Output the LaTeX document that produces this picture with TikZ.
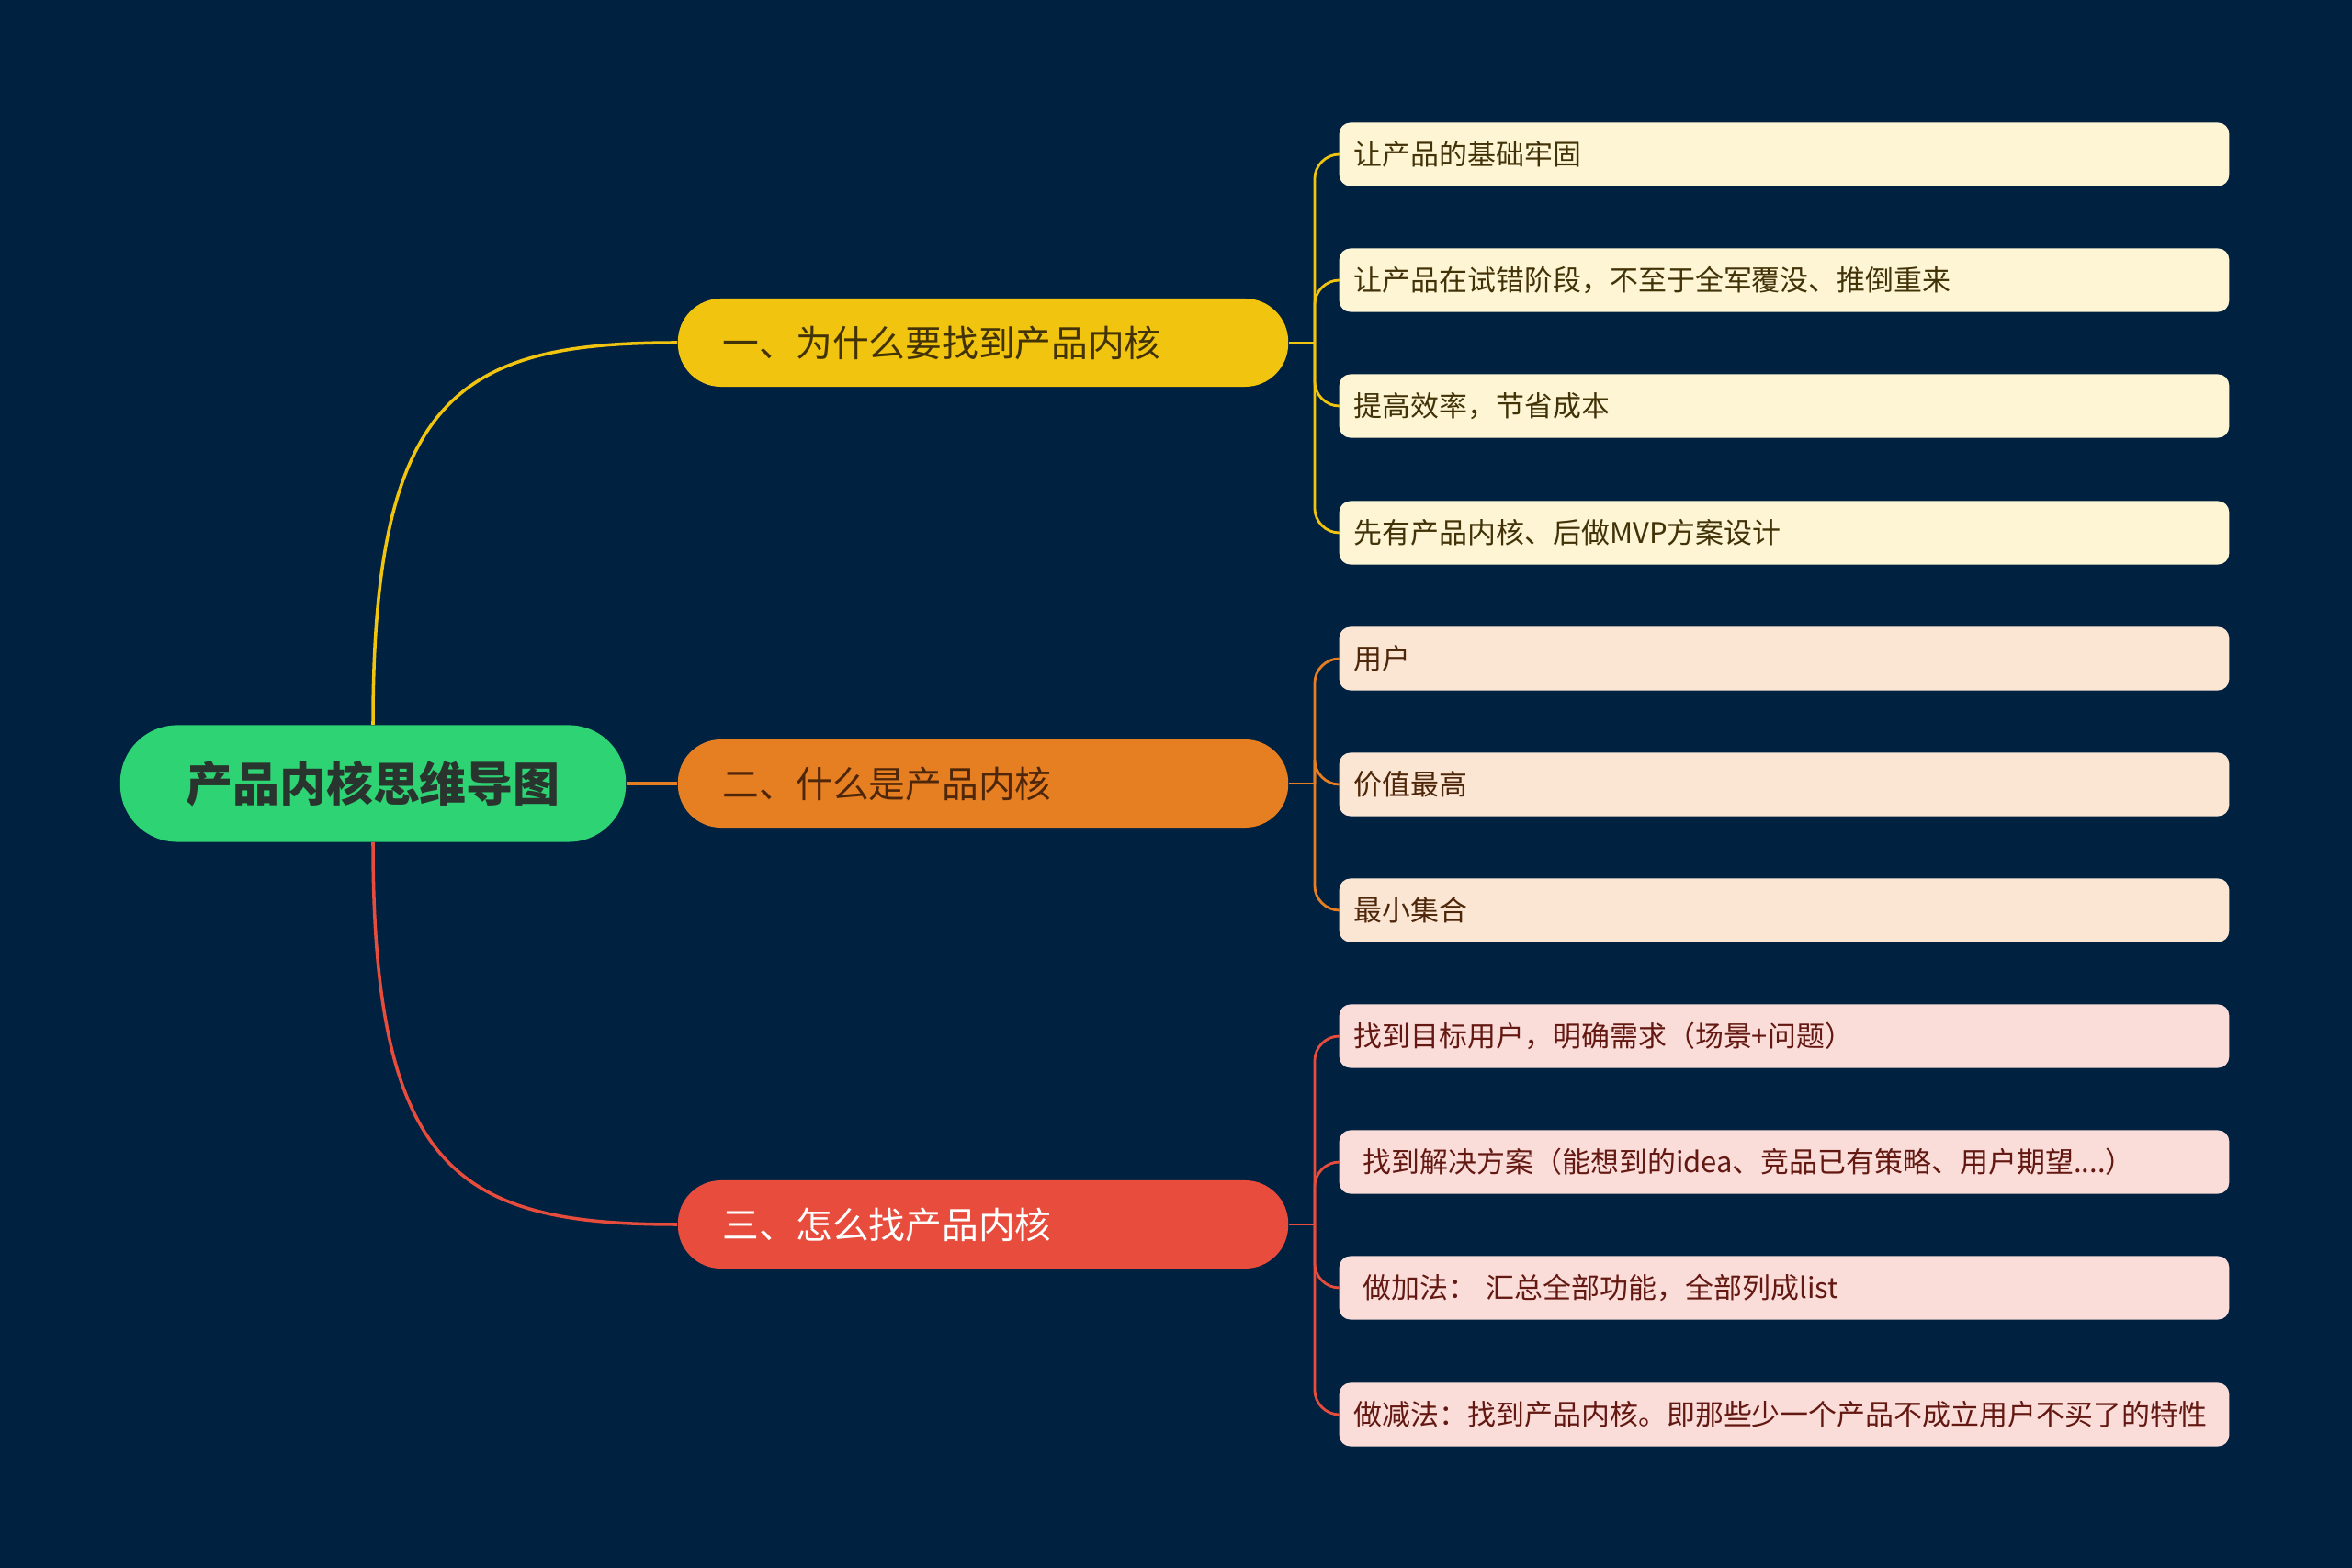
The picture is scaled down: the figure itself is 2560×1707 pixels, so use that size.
\documentclass[tikz,border=0pt]{standalone}
\usepackage{fontspec}
\setmainfont{Noto Sans CJK SC}
\usetikzlibrary{positioning}

\definecolor{bg}{RGB}{1,33,64}
\definecolor{rootc}{RGB}{46,212,115}
\definecolor{roottxt}{RGB}{42,52,46}
\definecolor{yel}{RGB}{241,196,15}
\definecolor{ora}{RGB}{230,126,34}
\definecolor{redc}{RGB}{231,76,60}
\definecolor{yelleaf}{RGB}{253,245,211}
\definecolor{oraleaf}{RGB}{251,230,212}
\definecolor{redleaf}{RGB}{250,220,217}
\definecolor{yeltxt}{RGB}{66,50,8}
\definecolor{oratxt}{RGB}{78,38,10}
\definecolor{redtxt}{RGB}{100,24,18}

\begin{document}
\begin{tikzpicture}[x=0.01cm,y=-0.01cm,
  rootbox/.style={fill=rootc,rounded corners=0.62cm,minimum width=5.5cm,minimum height=1.27cm,
    font=\fontsize{14.5}{16}\selectfont\bfseries,text=roottxt},
  branch/.style={rounded corners=0.47cm,minimum width=6.64cm,minimum height=0.96cm,
    text width=5.66cm,inner xsep=0.49cm,align=left,font=\fontsize{11.3}{13}\selectfont},
  leaf/.style={rounded corners=0.12cm,minimum height=0.69cm,text width=9.36cm,
    inner xsep=0.16cm,align=left,font=\fontsize{8.8}{10}\selectfont},
  link/.style={line width=1pt},
  twig/.style={line width=0.8pt,rounded corners=0.27cm}]

\fill[bg] (0,0) rectangle (2560,1707);
\useasboundingbox (0,0) rectangle (2560,1707);

% centre and main branches
\node[rootbox] (root) at (406,853) {产品内核思维导图};
\node[branch,fill=yel,text=yeltxt] (b1) at (1070,373) {一、为什么要找到产品内核};
\node[branch,fill=ora,text=oratxt] (b2) at (1070,853) {二、什么是产品内核};
\node[branch,fill=redc,text=white] (b3) at (1070,1333) {三、怎么找产品内核};

\draw[link,yel] (root.north) .. controls (406,430) and (500,373) .. (b1.west);
\draw[link,ora] (root.east) -- (b2.west);
\draw[link,redc] (root.south) .. controls (406,1276) and (500,1333) .. (b3.west);

% leaves
\node[leaf,fill=yelleaf,text=yeltxt] (l1) at (1942,168) {让产品的基础牢固};
\node[leaf,fill=yelleaf,text=yeltxt] (l2) at (1942,305) {让产品在试错阶段，不至于全军覆没、推倒重来};
\node[leaf,fill=yelleaf,text=yeltxt] (l3) at (1942,442) {提高效率，节省成本};
\node[leaf,fill=yelleaf,text=yeltxt] (l4) at (1942,580) {先有产品内核、后做MVP方案设计};

\node[leaf,fill=oraleaf,text=oratxt] (l5) at (1942,717) {用户};
\node[leaf,fill=oraleaf,text=oratxt] (l6) at (1942,854) {价值最高};
\node[leaf,fill=oraleaf,text=oratxt] (l7) at (1942,991) {最小集合};

\node[leaf,fill=redleaf,text=redtxt] (l8) at (1942,1128) {找到目标用户，明确需求（场景+问题）};
\node[leaf,fill=redleaf,text=redtxt] (l9) at (1942,1265) {\hspace*{0.1cm}找到解决方案（能想到的idea、竞品已有策略、用户期望....）};
\node[leaf,fill=redleaf,text=redtxt] (l10) at (1942,1402) {\hspace*{0.1cm}做加法： 汇总全部功能，全部列成list};
\node[leaf,fill=redleaf,text=redtxt] (l11) at (1942,1540) {做减法：找到产品内核。即那些少一个产品不成立用户不买了的特性};

\coordinate[right=0.28cm of b1.east] (t1);
\coordinate[right=0.28cm of b2.east] (t2);
\coordinate[right=0.28cm of b3.east] (t3);

\draw[twig,yel] (b1.east) -- (t1);
\draw[twig,yel] (t1) |- (l1.west);
\draw[twig,yel] (t1) |- (l2.west);
\draw[twig,yel] (t1) |- (l3.west);
\draw[twig,yel] (t1) |- (l4.west);

\draw[twig,ora] (b2.east) -- (t2);
\draw[twig,ora] (t2) |- (l5.west);
\draw[twig,ora] (t2) |- (l6.west);
\draw[twig,ora] (t2) |- (l7.west);

\draw[twig,redc] (b3.east) -- (t3);
\draw[twig,redc] (t3) |- (l8.west);
\draw[twig,redc] (t3) |- (l9.west);
\draw[twig,redc] (t3) |- (l10.west);
\draw[twig,redc] (t3) |- (l11.west);

\end{tikzpicture}
\end{document}
